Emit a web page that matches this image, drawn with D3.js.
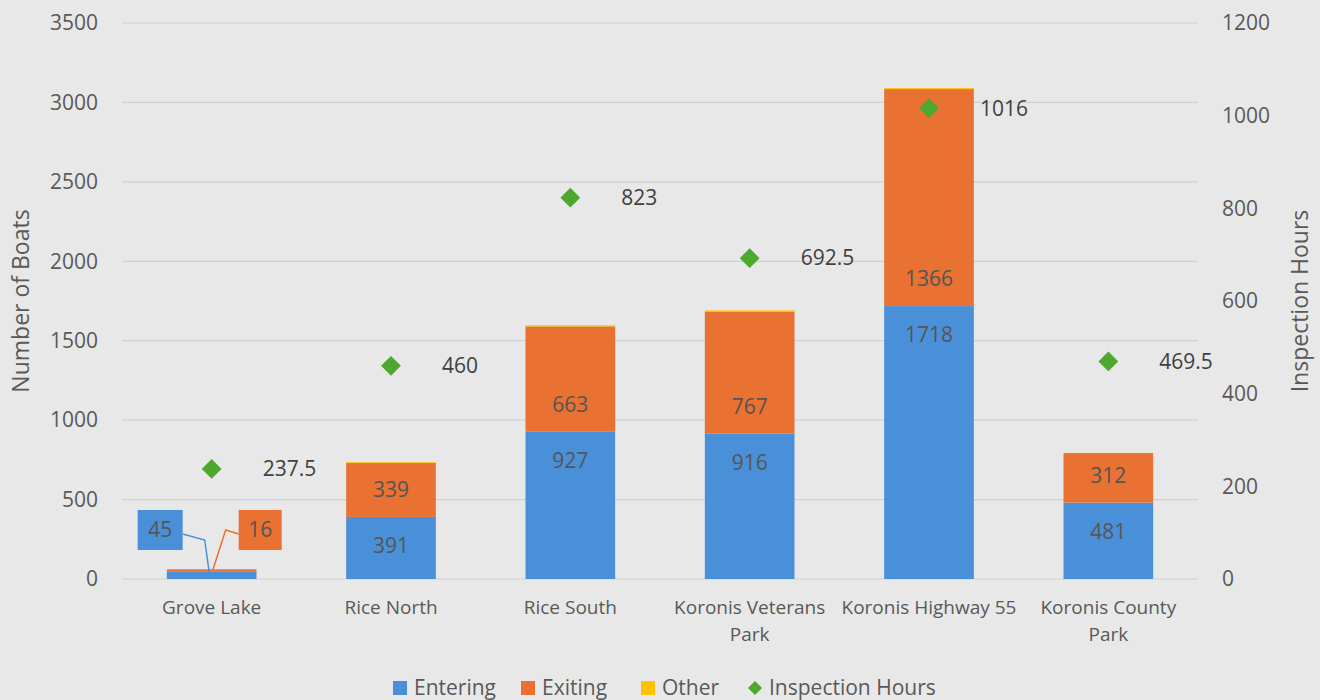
<!DOCTYPE html>
<html>
<head>
<meta charset="utf-8">
<script src="https://cdn.jsdelivr.net/npm/d3@7"></script>
<style>
  html, body { margin: 0; padding: 0; background: #e8e8e8; }
  svg { display: block; font-family: "Open Sans", Roboto, sans-serif; }
</style>
</head>
<body>
<div id="chart"></div>
<script>
const sites = ["Grove Lake", "Rice North", "Rice South", "Koronis Veterans Park", "Koronis Highway 55", "Koronis County Park"];
const siteLines = [["Grove Lake"], ["Rice North"], ["Rice South"], ["Koronis Veterans", "Park"], ["Koronis Highway 55"], ["Koronis County", "Park"]];
const entering = [45, 391, 927, 916, 1718, 481];
const exiting = [16, 339, 663, 767, 1366, 312];
const other = [0, 5, 7, 8, 6, 1];
const hours = [237.5, 460, 823, 692.5, 1016, 469.5];
const boatTicks = [0, 500, 1000, 1500, 2000, 2500, 3000, 3500];
const hourTicks = [0, 200, 400, 600, 800, 1000, 1200];

const W = 1320, H = 700;
const m = { left: 122, right: 122, top: 23, bottom: 121 };
const colors = { Entering: "#4a90d9", Exiting: "#e97132", Other: "#ffc000", hours: "#4ea72e" };
const textCol = "#595959";
const font = "'Open Sans', Roboto, sans-serif";

const svg = d3.select("#chart").append("svg").attr("width", W).attr("height", H);
svg.append("rect").attr("width", W).attr("height", H).attr("fill", "#e8e8e8");

const x = d3.scaleBand().domain(sites).range([m.left, W - m.right]).paddingInner(0.5).paddingOuter(0.25);
const y = d3.scaleLinear().domain([0, 3500]).range([H - m.bottom, m.top]);
const y2 = d3.scaleLinear().domain([0, 1200]).range([H - m.bottom, m.top]);

// gridlines
svg.append("g").selectAll("line").data(boatTicks).join("line")
  .attr("x1", m.left).attr("x2", W - m.right)
  .attr("y1", d => y(d)).attr("y2", d => y(d))
  .attr("stroke", "#d0d0d0").attr("stroke-width", 1.2);

// left axis
const yAxis = svg.append("g").attr("transform", `translate(${m.left - 24},0)`)
  .call(d3.axisLeft(y).tickValues(boatTicks).tickFormat(d3.format("d")).tickSize(0).tickPadding(0));
yAxis.select(".domain").remove();
yAxis.selectAll("text").attr("fill", textCol).style("font-size", "21px").style("font-family", font);

// right axis
const y2Axis = svg.append("g").attr("transform", `translate(${W - m.right + 24},0)`)
  .call(d3.axisRight(y2).tickValues(hourTicks).tickFormat(d3.format("d")).tickSize(0).tickPadding(0));
y2Axis.select(".domain").remove();
y2Axis.selectAll("text").attr("fill", textCol).style("font-size", "21px").style("font-family", font);

// axis titles
svg.append("text").attr("transform", `translate(29,${(m.top + H - m.bottom) / 2}) rotate(-90)`)
  .attr("text-anchor", "middle").attr("fill", textCol).style("font-size", "23px").text("Number of Boats");
svg.append("text").attr("transform", `translate(1308,${(m.top + H - m.bottom) / 2}) rotate(-90)`)
  .attr("text-anchor", "middle").attr("fill", textCol).style("font-size", "23px").text("Inspection Hours");

// stacked bars
const rows = sites.map((s, i) => ({ site: s, Entering: entering[i], Exiting: exiting[i], Other: other[i] }));
const stack = d3.stack().keys(["Entering", "Exiting", "Other"])(rows);

svg.append("g").selectAll("g").data(stack).join("g")
  .attr("fill", d => colors[d.key])
  .selectAll("rect").data(d => d).join("rect")
  .attr("x", d => x(d.data.site)).attr("width", x.bandwidth())
  .attr("y", d => y(d[1])).attr("height", d => y(d[0]) - y(d[1]));

// bar value labels: entering just below the split, exiting just above it
const segLabels = [];
rows.forEach((r, i) => {
  if (i === 0) return;
  segLabels.push({ site: r.site, v: r.Entering, py: y(r.Entering) + 29 });
  segLabels.push({ site: r.site, v: r.Exiting, py: y(r.Entering) - 27 });
});
svg.append("g").selectAll("text").data(segLabels).join("text")
  .attr("x", d => x(d.site) + x.bandwidth() / 2)
  .attr("y", d => d.py).attr("dy", "0.35em")
  .attr("text-anchor", "middle").attr("fill", "#555").style("font-size", "21px")
  .text(d => d.v);

// Grove Lake callouts
const g0 = sites[0], gx = x(g0) + x.bandwidth() / 2;
const callouts = [
  { v: entering[0], key: "Entering", bx: gx - 74, by: y(0) - 69, w: 45, h: 40, ax: gx - 7, ay: y(0) - 39, tx: gx - 2, ty: y(entering[0] / 2), fromRight: true },
  { v: exiting[0], key: "Exiting", bx: gx + 27, by: y(0) - 69, w: 43, h: 40, ax: gx + 14, ay: y(0) - 49, tx: gx + 1, ty: y(entering[0] + exiting[0] / 2), fromRight: false }
];
const cg = svg.append("g");
callouts.forEach(c => {
  const sx = c.fromRight ? c.bx + c.w : c.bx;
  cg.append("polyline")
    .attr("points", [[sx, c.by + 24], [c.ax, c.ay], [c.tx, c.ty]].map(p => p.join(",")).join(" "))
    .attr("fill", "none").attr("stroke", colors[c.key]).attr("stroke-width", 1.5);
  cg.append("rect").attr("x", c.bx).attr("y", c.by).attr("width", c.w).attr("height", c.h).attr("fill", colors[c.key]);
  cg.append("text").attr("x", c.bx + c.w / 2).attr("y", c.by + c.h / 2).attr("dy", "0.35em")
    .attr("text-anchor", "middle").attr("fill", "#555").style("font-size", "21px").text(c.v);
});

// inspection hours diamonds
const hg = svg.append("g");
hg.selectAll("rect").data(hours).join("rect")
  .attr("width", 14).attr("height", 14).attr("x", -7).attr("y", -7)
  .attr("transform", (d, i) => `translate(${x(sites[i]) + x.bandwidth() / 2},${y2(d)}) rotate(45)`)
  .attr("fill", colors.hours);
hg.selectAll("text").data(hours).join("text")
  .attr("x", (d, i) => x(sites[i]) + x.bandwidth() / 2 + 51)
  .attr("y", d => y2(d)).attr("dy", "0.35em")
  .attr("fill", "#404040").style("font-size", "21px")
  .text(d => d);

// category labels
const xl = svg.append("g");
sites.forEach((s, i) => {
  const t = xl.append("text").attr("x", x(s) + x.bandwidth() / 2).attr("y", 614)
    .attr("text-anchor", "middle").attr("fill", textCol).style("font-size", "19px");
  siteLines[i].forEach((ln, j) => t.append("tspan").attr("x", x(s) + x.bandwidth() / 2).attr("dy", j ? 27 : 0).text(ln));
});

// legend
const legendItems = [
  { label: "Entering", color: colors.Entering, x: 393, shape: "sq" },
  { label: "Exiting", color: colors.Exiting, x: 521, shape: "sq" },
  { label: "Other", color: colors.Other, x: 641, shape: "sq" },
  { label: "Inspection Hours", color: colors.hours, x: 748, shape: "dia" }
];
const lg = svg.append("g");
legendItems.forEach(it => {
  if (it.shape === "sq") {
    lg.append("rect").attr("x", it.x).attr("y", 681).attr("width", 14).attr("height", 14).attr("fill", it.color);
  } else {
    lg.append("rect").attr("width", 10).attr("height", 10).attr("x", -5).attr("y", -5)
      .attr("transform", `translate(${it.x + 7},688) rotate(45)`).attr("fill", it.color);
  }
  lg.append("text").attr("x", it.x + 21).attr("y", 688).attr("dy", "0.35em")
    .attr("fill", textCol).style("font-size", "21px").text(it.label);
});
</script>
</body>
</html>
